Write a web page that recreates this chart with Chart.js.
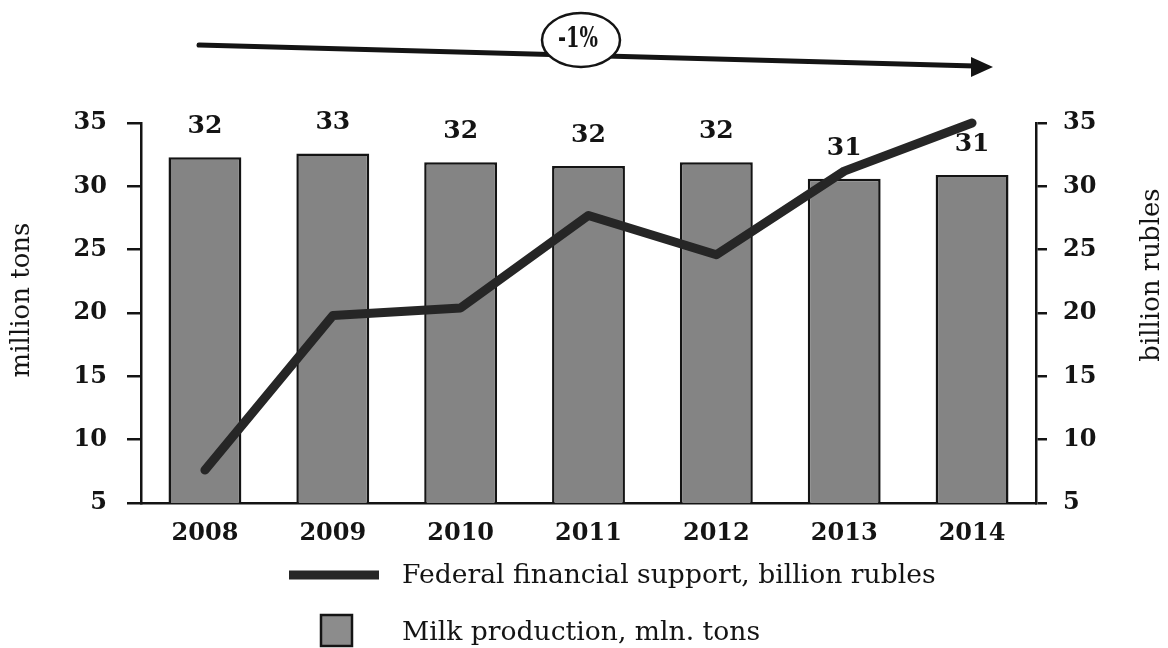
<!DOCTYPE html>
<html>
<head>
<meta charset="utf-8">
<script src="https://cdn.jsdelivr.net/npm/chart.js@4.4.1/dist/chart.umd.min.js"></script>
<style>
  html, body { margin: 0; padding: 0; background: #fff; }
  #wrap { width: 1168px; height: 648px; position: relative; }
</style>
</head>
<body>
<div id="wrap"><canvas id="chart"></canvas></div>
<script>
const years = ['2008', '2009', '2010', '2011', '2012', '2013', '2014'];
const milkProduction = [32.3, 32.6, 31.9, 31.6, 31.9, 30.6, 30.9];
const federalSupport = [7.6, 19.8, 20.4, 27.7, 24.6, 31.2, 35.0];
const axisMin = 5;
const axisMax = 35;
const axisStep = 5;
const trendLabel = '-1%';
const leftTitle = 'million tons';
const rightTitle = 'billion rubles';
const lineLabel = 'Federal financial support, billion rubles';
const barLabel = 'Milk production, mln. tons';

const INK = '#141414';
const BAR = '#848484';
const SERIF = '"DejaVu Serif", "Liberation Serif", serif';

// numbers above the bars
const barValues = {
  id: 'barValues',
  afterDatasetsDraw(chart) {
    const ctx = chart.ctx;
    const meta = chart.getDatasetMeta(0);
    ctx.save();
    ctx.fillStyle = INK;
    ctx.font = 'bold 25px ' + SERIF;
    ctx.textAlign = 'center';
    ctx.textBaseline = 'alphabetic';
    meta.data.forEach((bar, i) => {
      ctx.fillText(String(Math.round(milkProduction[i])), bar.x, bar.y - 24);
    });
    ctx.restore();
  }
};

// trend arrow, axis titles, legend
const decorations = {
  id: 'decorations',
  afterDraw(chart) {
    const ctx = chart.ctx;
    ctx.save();

    // trend arrow
    ctx.strokeStyle = INK;
    ctx.fillStyle = INK;
    ctx.lineWidth = 5;
    ctx.lineCap = 'round';
    ctx.beginPath();
    ctx.moveTo(199, 45);
    ctx.lineTo(975, 66);
    ctx.stroke();
    ctx.beginPath();
    ctx.moveTo(993, 67);
    ctx.lineTo(971, 57);
    ctx.lineTo(971, 77);
    ctx.closePath();
    ctx.fill();

    ctx.beginPath();
    ctx.ellipse(581, 40, 39, 27, 0, 0, Math.PI * 2);
    ctx.fillStyle = '#fff';
    ctx.fill();
    ctx.lineWidth = 2.5;
    ctx.stroke();
    ctx.save();
    ctx.translate(578, 40);
    ctx.scale(0.72, 1);
    ctx.fillStyle = INK;
    ctx.font = 'bold 27px ' + SERIF;
    ctx.textAlign = 'center';
    ctx.textBaseline = 'middle';
    ctx.fillText(trendLabel, 0, 0);
    ctx.restore();

    // axis titles
    ctx.fillStyle = INK;
    ctx.font = '26px ' + SERIF;
    ctx.textAlign = 'center';
    ctx.textBaseline = 'middle';
    ctx.save();
    ctx.translate(22, 300);
    ctx.rotate(-Math.PI / 2);
    ctx.fillText(leftTitle, 0, 0);
    ctx.restore();
    ctx.save();
    ctx.translate(1152, 275);
    ctx.rotate(-Math.PI / 2);
    ctx.fillText(rightTitle, 0, 0);
    ctx.restore();

    // legend
    ctx.strokeStyle = '#262626';
    ctx.lineWidth = 9;
    ctx.lineCap = 'butt';
    ctx.beginPath();
    ctx.moveTo(289, 575);
    ctx.lineTo(379, 575);
    ctx.stroke();
    ctx.fillStyle = '#8c8c8c';
    ctx.fillRect(321, 615, 31, 31);
    ctx.strokeStyle = INK;
    ctx.lineWidth = 2.5;
    ctx.strokeRect(321, 615, 31, 31);

    ctx.fillStyle = INK;
    ctx.font = '26.6px ' + SERIF;
    ctx.textAlign = 'left';
    ctx.textBaseline = 'middle';
    ctx.fillText(lineLabel, 402, 576);
    ctx.fillText(barLabel, 402, 633);

    ctx.restore();
  }
};

const tickFont = { family: SERIF, size: 24, weight: 'bold' };

new Chart(document.getElementById('chart'), {
  data: {
    labels: years,
    datasets: [
      {
        type: 'bar',
        label: barLabel,
        data: milkProduction,
        yAxisID: 'y',
        backgroundColor: BAR,
        borderColor: INK,
        borderWidth: 2.5,
        categoryPercentage: 1,
        barPercentage: 0.57,
        order: 1
      },
      {
        type: 'line',
        label: lineLabel,
        data: federalSupport,
        yAxisID: 'y1',
        borderColor: '#262626',
        borderWidth: 9,
        borderCapStyle: 'round',
        borderJoinStyle: 'round',
        pointRadius: 0,
        tension: 0,
        clip: false,
        order: 0
      }
    ]
  },
  options: {
    responsive: true,
    maintainAspectRatio: false,
    animation: false,
    layout: { padding: { top: 123, left: 0, right: 0, bottom: 0 } },
    plugins: {
      legend: { display: false },
      tooltip: { enabled: false }
    },
    scales: {
      x: {
        grid: { display: false },
        border: { display: true, color: INK, width: 2.5 },
        ticks: { color: INK, font: tickFont, padding: 8 },
        afterFit(scale) { scale.height = 145; }
      },
      y: {
        position: 'left',
        min: axisMin,
        max: axisMax,
        ticks: { stepSize: axisStep, color: INK, font: tickFont, padding: 20 },
        grid: { drawOnChartArea: false, drawTicks: true, tickLength: 14, color: INK, lineWidth: 2.5 },
        border: { display: true, color: INK, width: 2.5 },
        afterFit(scale) { scale.width = 141; }
      },
      y1: {
        position: 'right',
        min: axisMin,
        max: axisMax,
        ticks: { stepSize: axisStep, color: INK, font: tickFont, padding: 16 },
        grid: { drawOnChartArea: false, drawTicks: true, tickLength: 11, color: INK, lineWidth: 2.5 },
        border: { display: true, color: INK, width: 2.5 },
        afterFit(scale) { scale.width = 132; }
      }
    }
  },
  plugins: [barValues, decorations]
});
</script>
</body>
</html>
